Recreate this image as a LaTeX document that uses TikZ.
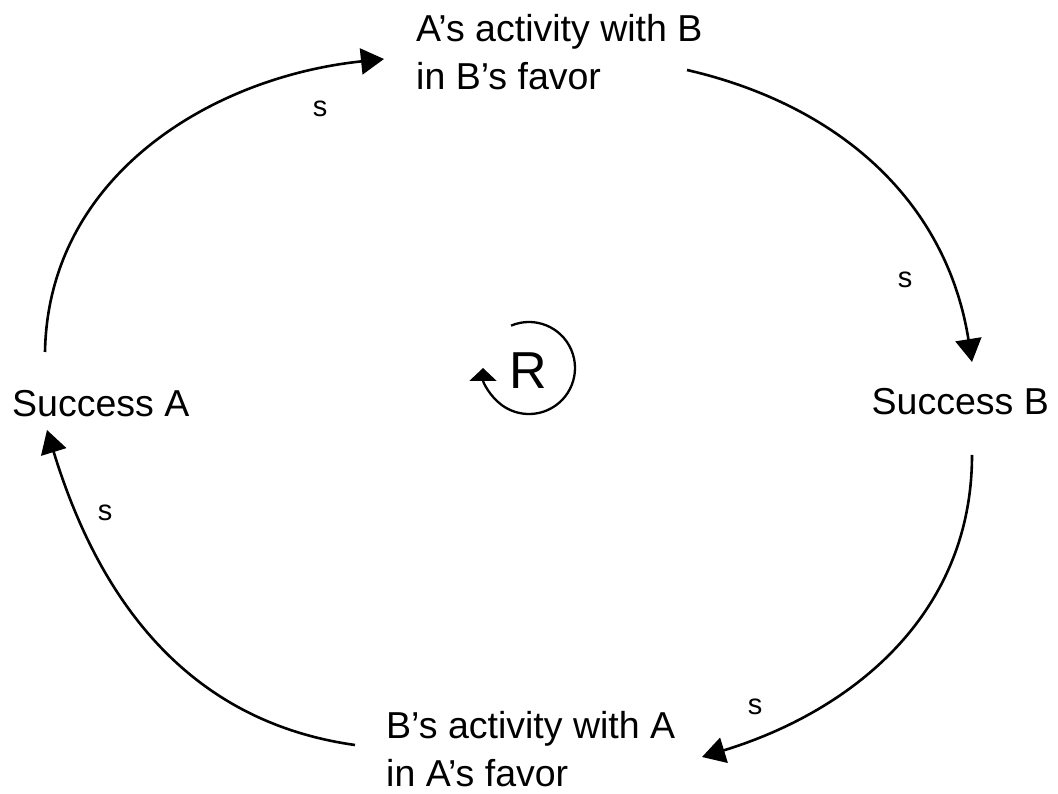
\documentclass[tikz,border=0pt]{standalone}
\usepackage{fontspec}
\setmainfont{Liberation Sans}
\usetikzlibrary{arrows.meta}
\begin{document}
\begin{tikzpicture}[x=1pt,y=1pt,
  lbl/.style={inner sep=0pt, font=\fontsize{37.5}{48}\selectfont, align=left},
  slbl/.style={inner sep=0pt, anchor=base, font=\fontsize{29}{34}\selectfont},
  link/.style={line width=2.6pt, -{Triangle[length=23pt,width=26pt]}},
  loopar/.style={line width=2.3pt, -{Triangle[length=13pt,width=27pt]}}]
\useasboundingbox (0,0) rectangle (1058,793);
% variables
\node[lbl, anchor=base west] (sa) at (12,376) {Success A};
\node[lbl, anchor=base east] (sb) at (1049,378) {Success B};
\node[lbl, anchor=base west] (ab) at (416,703) {A’s activity with B\\in B’s favor};
\node[lbl, anchor=base west] (ba) at (386,7) {B’s activity with A\\in A’s favor};
% connector end points
\coordinate (p1s) at (45,441);
\coordinate (p1e) at (384,734);
\coordinate (p2s) at (687,723);
\coordinate (p2e) at (972,431);
\coordinate (p3s) at (972,338);
\coordinate (p3e) at (702,36);
\coordinate (p4s) at (355,48);
\coordinate (p4e) at (47,363);
% links
\draw[link] (p1s) to[out=89, in=186] (p1e);
\draw[link] (p2s) to[out=-13, in=99] (p2e);
\draw[link] (p3s) to[out=-90, in=17] (p3e);
\draw[link] (p4s) to[out=172, in=-73] (p4e);
% polarity labels
\node[slbl] (s1) at (320,676) {s};
\node[slbl] (s2) at (905,505) {s};
\node[slbl] (s3) at (105,272) {s};
\node[slbl] (s4) at (755,78) {s};
% loop identifier
\node[inner sep=0pt, anchor=base, font=\fontsize{52}{60}\selectfont] (r) at (528.5,404) {R};
\coordinate (rc) at (529,425);
\draw[loopar] ([shift={(113:46)}]rc) arc[start angle=113, end angle=-180, radius=46];
\end{tikzpicture}
\end{document}
